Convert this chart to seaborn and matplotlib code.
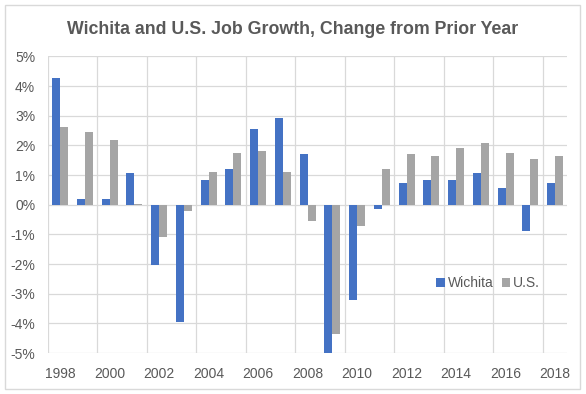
import pandas as pd
import seaborn as sns
from matplotlib import pyplot as plt
from matplotlib.patches import Rectangle

sns.set_style("white")
plt.rcParams['font.family'] = ['Liberation Sans', 'DejaVu Sans']

years = list(range(1998, 2019))
wichita = [4.26, 0.18, 0.18, 1.08, -2.03, -3.95, 0.82, 1.19, 2.57, 2.94, 1.70,
           -5.0, -3.20, -0.15, 0.75, 0.85, 0.85, 1.06, 0.58, -0.87, 0.75]
us = [2.61, 2.45, 2.18, 0.03, -1.08, -0.21, 1.09, 1.73, 1.80, 1.12, -0.55,
      -4.35, -0.72, 1.19, 1.70, 1.63, 1.90, 2.07, 1.76, 1.56, 1.66]
series_names = ['Wichita', 'U.S.']
colors = ['#4472C4', '#A5A5A5']

df = pd.DataFrame({
    'year': years * 2,
    'value': wichita + us,
    'series': [series_names[0]] * len(years) + [series_names[1]] * len(years),
})

text_color = '#595959'
grid_color = '#D9D9D9'

fig = plt.figure(figsize=(5.86, 3.94), dpi=100)
ax = fig.add_axes([0.0814, 0.104, 0.887, 0.7526])

sns.barplot(data=df, x='year', y='value', hue='series', order=years,
            hue_order=series_names, palette=colors, width=0.65,
            saturation=1, linewidth=0, ax=ax, zorder=3)

ax.set_ylim(-5, 5)
ax.set_xlim(-0.5, len(years) - 0.5)
yt = list(range(-5, 6))
ax.set_yticks(yt)
ax.set_yticklabels([f'{v}%' for v in yt])
ax.set_xticks(range(0, len(years), 2))
ax.set_xticklabels([str(y) for y in years[::2]])
ax.tick_params(axis='both', length=0, labelsize=10, colors=text_color)
ax.tick_params(axis='x', pad=10)
ax.tick_params(axis='y', pad=9)
ax.set_xlabel('')
ax.set_ylabel('')

for v in yt:
    ax.axhline(v, color=grid_color, lw=0.9, zorder=1)
for b in range(0, len(years), 2):
    ax.axvline(b - 0.5, color=grid_color, lw=0.9, zorder=1)
for s in ax.spines.values():
    s.set_visible(False)

ax.legend(loc='center left', bbox_to_anchor=(0.737, 0.236), frameon=False,
          fontsize=10, labelcolor=text_color, handlelength=0.6, handleheight=0.6,
          handletextpad=0.2, columnspacing=0.6, ncol=2, borderaxespad=0)

fig.text(0.5, 0.925, 'Wichita and U.S. Job Growth, Change from Prior Year',
         ha='center', va='center', fontsize=12.8, fontweight='bold',
         color=text_color)

fig.patches.append(Rectangle((5 / 586, 5 / 394), 575 / 586, 384 / 394,
                             transform=fig.transFigure, fill=False,
                             edgecolor='#D9D9D9', lw=1))

plt.savefig('out.png', dpi=100)
plt.close()
